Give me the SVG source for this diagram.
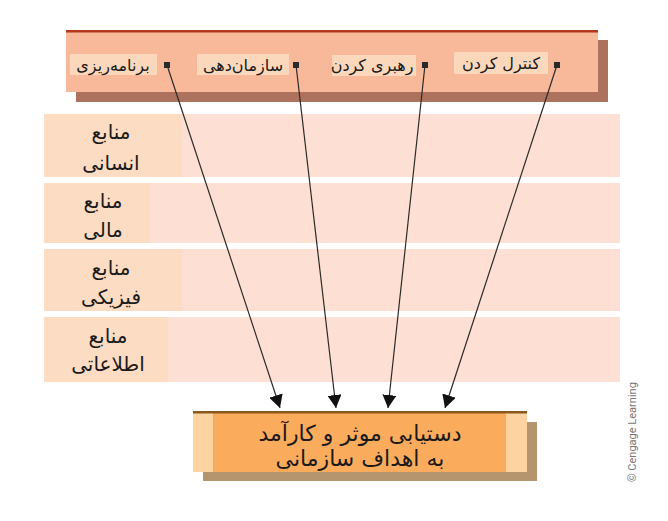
<svg xmlns="http://www.w3.org/2000/svg" width="668" height="521" viewBox="0 0 668 521">
<defs>
<style>
.fa{font-family:"DejaVu Sans","Noto Sans",sans-serif;fill:#1a1a1a;text-anchor:middle}
.top{font-size:16px}
.res{font-size:20px}
.goal{font-size:22px}
.row{fill:#fde0d3}
.lab{fill:#fcdcc3}
.hl{fill:#fbd8bb}
.bul{fill:#2a2a2a}
.conn{stroke:#2a2a2a;stroke-width:1.2;fill:none}
</style>
<marker id="ah" markerUnits="userSpaceOnUse" markerWidth="13" markerHeight="14" viewBox="0 0 13 14" refX="13" refY="7" orient="auto">
<path d="M0,0 L13,7 L0,14 Z" fill="#111"/>
</marker>
</defs>
<rect width="668" height="521" fill="#fff"/>

<g id="resources">
<g id="row-human">
<rect class="row" x="44" y="114" width="576" height="63"/>
<rect class="lab" x="44" y="114" width="138" height="63"/>
<text class="fa res" x="111" y="139">منابع</text>
<text class="fa res" x="111" y="170">انسانی</text>
</g>
<g id="row-financial">
<rect class="row" x="44" y="183" width="576" height="60"/>
<rect class="lab" x="44" y="183" width="106" height="60"/>
<text class="fa res" x="103" y="208">منابع</text>
<text class="fa res" x="103" y="237">مالی</text>
</g>
<g id="row-physical">
<rect class="row" x="44" y="249" width="576" height="62"/>
<rect class="lab" x="44" y="249" width="138" height="62"/>
<text class="fa res" x="111" y="275">منابع</text>
<text class="fa res" x="111" y="304">فیزیکی</text>
</g>
<g id="row-information">
<rect class="row" x="44" y="317" width="576" height="65"/>
<rect class="lab" x="44" y="317" width="124" height="65"/>
<text class="fa res" x="108" y="343">منابع</text>
<text class="fa res" x="108" y="371">اطلاعاتی</text>
</g>
</g>

<g id="functions">
<rect x="76" y="40" width="532" height="62" fill="#ad725d"/>
<rect x="66" y="31" width="532" height="61" fill="#f8b99b"/>
<rect x="66" y="30" width="532" height="2.5" fill="#b4381c"/>
<g id="planning">
<rect class="hl" x="70" y="54" width="87" height="21"/>
<text class="fa top" x="113" y="71">برنامه&#x200C;ریزی</text>
<rect class="bul" x="164" y="62" width="6" height="6"/>
</g>
<g id="organizing">
<rect class="hl" x="197" y="54" width="92" height="21"/>
<text class="fa top" x="243" y="71">سازمان&#x200C;دهی</text>
<rect class="bul" x="293" y="62" width="6" height="6"/>
</g>
<g id="leading">
<rect class="hl" x="332" y="55" width="84" height="21"/>
<text class="fa top" x="372" y="71">رهبری کردن</text>
<rect class="bul" x="422" y="62" width="6" height="6"/>
</g>
<g id="controlling">
<rect class="hl" x="454" y="52" width="94" height="22"/>
<text class="fa top" x="501" y="69">کنترل کردن</text>
<rect class="bul" x="554" y="62" width="6" height="6"/>
</g>
</g>

<g id="goal">
<rect x="203" y="422" width="334" height="59" fill="#b4956d"/>
<rect x="193" y="412" width="334" height="60" fill="#fdd3a2"/>
<rect x="213" y="413" width="293" height="59" fill="#fbab5c"/>
<rect x="193" y="411" width="334" height="2.5" fill="#8a5a1c"/>
<text class="fa goal" x="360" y="441">دستیابی موثر و کارآمد</text>
<text class="fa goal" x="360" y="466">به اهداف سازمانی</text>
</g>

<g id="connectors">
<line class="conn" x1="167" y1="65" x2="280" y2="408" marker-end="url(#ah)"/>
<line class="conn" x1="296" y1="65" x2="336" y2="408" marker-end="url(#ah)"/>
<line class="conn" x1="425" y1="65" x2="388" y2="408" marker-end="url(#ah)"/>
<line class="conn" x1="557" y1="65" x2="445" y2="408" marker-end="url(#ah)"/>
</g>

<text x="636" y="482" transform="rotate(-90 636 482)" font-family="Roboto, 'Liberation Sans', sans-serif" font-size="11" fill="#777">© Cengage Learning</text>
</svg>
